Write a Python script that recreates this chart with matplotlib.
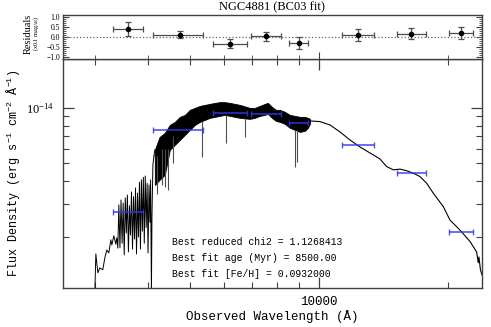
import numpy as np
import matplotlib
matplotlib.use("Agg")
import matplotlib.pyplot as plt
from matplotlib.ticker import (LogLocator, NullFormatter, FixedLocator, FixedFormatter,
                               MultipleLocator)

plt.rcParams["mathtext.default"] = "regular"

# model spectrum, flux in 1e-15 erg/s/cm2/A
WL_UV = [3002, 3018, 3051, 3083, 3133, 3167, 3201, 3236, 3271, 3289, 3324, 3360, 3378, 3396]
F_UV = [1.0, 1.62, 1.28, 1.36, 1.33, 1.54, 1.70, 1.64, 1.93, 1.81, 2.03, 1.83, 1.98, 1.74]

WL_U = [3415, 3435, 3455, 3475, 3495, 3515, 3535, 3555, 3575, 3595, 3615, 3635, 3655,
        3675, 3695, 3715, 3735, 3755, 3775, 3795, 3815, 3835, 3855, 3875, 3895, 3915,
        3935, 3955, 3975, 3995, 4015, 4035, 4050, 4068, 4080, 4100, 4125]
F_U = [2.98, 1.75, 3.17, 1.85, 3.05, 1.60, 3.25, 2.10, 3.37, 1.66, 2.95, 2.05, 3.50,
       1.72, 3.30, 1.95, 3.68, 1.62, 3.45, 2.00, 3.95, 1.72, 4.07, 2.15, 4.20, 1.85,
       4.27, 2.25, 3.90, 1.64, 3.82, 2.40, 4.07, 1.0, 2.6, 4.9, 5.5]

# noisy optical part: upper / lower envelope of the dense band
WL_B = [4143, 4250, 4371, 4490, 4613, 4739, 4868, 5000, 5137, 5277, 5421, 5568, 5720,
        5875, 6034, 6199, 6367, 6540, 6900, 7090, 7283, 7480, 7600, 7770, 7940, 8110,
        8330, 8556, 8790, 9029, 9275, 9426, 9528]
TOP_B = [5.91, 6.94, 7.30, 8.06, 8.37, 8.91, 9.13, 9.72, 9.96, 10.21, 10.34, 10.47, 10.6,
         10.7, 10.7, 10.6, 10.47, 10.34, 9.96, 9.96, 10.21, 10.47, 10.6, 10.09, 9.72, 9.72,
         9.48, 9.13, 9.02, 8.91, 8.91, 8.80, 8.69]
BOT_B = [3.82, 4.07, 4.33, 5.91, 6.29, 6.69, 7.12, 7.58, 8.06, 8.37, 8.58, 8.80, 8.91,
         9.02, 9.13, 9.02, 8.91, 8.80, 8.69, 8.80, 9.02, 9.13, 9.25, 8.80, 8.47, 8.37,
         8.16, 7.77, 7.58, 7.39, 7.49, 7.77, 8.16]

# strong absorption lines
SPIKE_WL = [4200, 4300, 4371, 4443, 4560, 5345, 6067, 6740, 8790, 8870]
SPIKE_LO = [3.4, 3.8, 3.7, 3.59, 5.0, 5.41, 6.45, 6.94, 4.78, 5.1]
SPIKE_HI = [5.5, 6.0, 6.0, 6.0, 7.0, 8.5, 9.1, 8.8, 7.6, 7.6]

WL_IR = [9528, 10054, 10609, 11194, 11810, 12464, 13150, 13877, 14387, 14910, 15452,
         16020, 16600, 17207, 17840, 18480, 19500, 20210, 21330, 22510, 23330, 23530,
         23620, 23810, 24000]
F_IR = [8.47, 8.40, 8.06, 7.39, 6.69, 6.13, 5.69, 5.28, 4.80, 4.61, 4.65, 4.56, 4.42,
        4.24, 3.90, 3.45, 2.92, 2.47, 2.18, 1.89, 1.66, 1.45, 1.56, 1.33, 1.25]

# photometry (filter centre / edges, flux) and residuals
PHOT_WL = [3585, 4740, 6200, 7520, 8980, 12330, 16395, 21450]
PHOT_LO = [3306, 4100, 5660, 6930, 8510, 11296, 15180, 20140]
PHOT_HI = [3885, 5362, 6793, 8140, 9425, 13440, 17740, 22900]
PHOT_F = [2.73, 7.58, 9.33, 9.21, 8.30, 6.29, 4.42, 2.12]
RES = [0.42, 0.12, -0.33, 0.03, -0.29, 0.10, 0.16, 0.19]
RES_ERR = [0.35, 0.18, 0.23, 0.21, 0.31, 0.28, 0.27, 0.29]

UNIT = 1e-15
MONO = ["Liberation Mono", "DejaVu Sans Mono"]
SERIF = ["Liberation Serif", "DejaVu Serif"]

fig = plt.figure(figsize=(4.91, 3.27), dpi=100)
ax = fig.add_axes([0.1283, 0.1193, 0.8524, 0.7003])
axr = fig.add_axes([0.1283, 0.8196, 0.8524, 0.1345])

# spectrum
ax.plot(WL_UV + WL_U, np.array(F_UV + F_U) * UNIT, color="k", lw=0.7)
ax.fill_between(WL_B, np.array(BOT_B) * UNIT, np.array(TOP_B) * UNIT,
                color="k", lw=0.6)
ax.plot([WL_U[-1], WL_B[0]], [F_U[-1] * UNIT, TOP_B[0] * UNIT], color="k", lw=0.7)
ax.vlines(SPIKE_WL, np.array(SPIKE_LO) * UNIT, np.array(SPIKE_HI) * UNIT,
          color="0.3", lw=0.8)
ax.plot(WL_IR, np.array(F_IR) * UNIT, color="k", lw=0.8)

wl = np.array(PHOT_WL)
xerr = [wl - np.array(PHOT_LO), np.array(PHOT_HI) - wl]
ax.errorbar(wl, np.array(PHOT_F) * UNIT, xerr=xerr, fmt="none", ecolor="#3535f0",
            elinewidth=1.2, capsize=2.5, capthick=1.0, alpha=0.85, zorder=4)

ax.set_xscale("log")
ax.set_yscale("log")
ax.set_xlim(2530, 23950)
ax.set_ylim(1.06e-15, 1.83e-14)

ax.xaxis.set_major_locator(FixedLocator([10000]))
ax.xaxis.set_major_formatter(FixedFormatter(["10000"]))
ax.xaxis.set_minor_locator(FixedLocator([3000, 4000, 5000, 6000, 7000, 8000, 9000, 20000]))
ax.xaxis.set_minor_formatter(NullFormatter())
ax.yaxis.set_major_locator(FixedLocator([1e-14]))
ax.yaxis.set_major_formatter(FixedFormatter([r"$10^{-14}$"]))
ax.yaxis.set_minor_locator(FixedLocator([2e-15, 3e-15, 4e-15, 5e-15, 6e-15, 7e-15,
                                         8e-15, 9e-15]))
ax.yaxis.set_minor_formatter(NullFormatter())
ax.tick_params(which="both", direction="in", top=True, right=True, color="0.25")
ax.tick_params(which="major", length=8, width=0.9, pad=6)
ax.tick_params(which="minor", length=4, width=0.8)
for lab in ax.get_xticklabels():
    lab.set_family(MONO)
    lab.set_fontsize(9)
for lab in ax.get_yticklabels():
    lab.set_family(SERIF)
    lab.set_fontsize(9)

ax.set_xlabel("Observed Wavelength (Å)", family=MONO, fontsize=9, labelpad=1)
ax.set_ylabel(r"Flux Density (erg s$^{-1}$ cm$^{-2}$ Å$^{-1}$)", family=MONO, fontsize=8.5)
ax.yaxis.set_label_coords(-0.095, 0.5)

notes = ["Best reduced chi2 = 1.1268413",
         "Best fit age (Myr) = 8500.00",
         "Best fit [Fe/H] = 0.0932000"]
for i, s in enumerate(notes):
    ax.text(0.26, 0.20 - i * 0.069, s, transform=ax.transAxes, family=MONO,
            fontsize=7, ha="left", va="center")

# residual panel
axr.axhline(0, ls=":", color="0.4", lw=0.9)
axr.errorbar(wl, RES, xerr=xerr, yerr=RES_ERR, fmt="o", ms=3, color="k",
             ecolor="0.3", elinewidth=0.9, capsize=2.5, capthick=0.9)
axr.set_xscale("log")
axr.set_xlim(ax.get_xlim())
axr.set_ylim(-1.1, 1.1)
axr.xaxis.set_major_locator(FixedLocator([10000]))
axr.xaxis.set_minor_locator(FixedLocator([3000, 4000, 5000, 6000, 7000, 8000, 9000, 20000]))
axr.xaxis.set_major_formatter(NullFormatter())
axr.xaxis.set_minor_formatter(NullFormatter())
axr.set_yticks([-1, -0.5, 0, 0.5, 1])
axr.set_yticklabels(["−1.0", "−0.5", "0.0", "0.5", "1.0"], family=SERIF, fontsize=5.5)
axr.yaxis.set_minor_locator(MultipleLocator(0.1))
axr.tick_params(which="both", direction="in", right=True, top=False, color="0.25")
axr.tick_params(which="major", length=4, width=0.8, pad=2)
axr.tick_params(which="minor", length=2, width=0.6)
axr.tick_params(axis="x", which="major", length=5)
axr.tick_params(axis="x", which="minor", length=3)
axr.text(-0.084, 0.58, "Residuals", transform=axr.transAxes, rotation=90,
         ha="center", va="center", family=SERIF, fontsize=7.5)
axr.text(-0.063, 0.58, r"(x0.1 mag$_{AB}$)", transform=axr.transAxes, rotation=90,
         ha="center", va="center", family=SERIF, fontsize=4.5)

for a in (ax, axr):
    for sp in a.spines.values():
        sp.set_color("0.25")
        sp.set_linewidth(1.0)

fig.text(0.554, 0.979, "NGC4881 (BC03 fit)", family=SERIF, fontsize=9,
         ha="center", va="center")

fig.savefig("out.png", dpi=100)
